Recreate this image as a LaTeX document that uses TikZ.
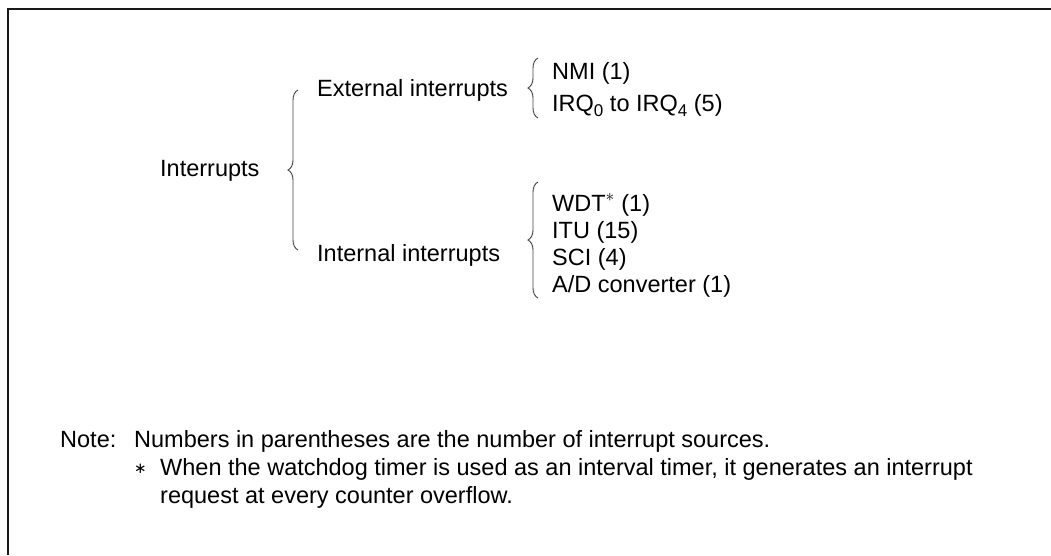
\documentclass[tikz,border=0pt]{standalone}
\usepackage{fontspec}
\setmainfont{Liberation Sans}
\newfontfamily\symfont{DejaVu Sans}
\usetikzlibrary{decorations.pathreplacing}
\newcommand{\lowidx}[1]{\raisebox{-5.5pt}{\fontsize{17}{17}\selectfont #1}}
\begin{document}
\begin{tikzpicture}[x=1pt, y=-1pt,
		every node/.style={anchor=base west, inner sep=0pt, font=\fontsize{23.5}{28}\selectfont},
		brc/.style={decorate, decoration={brace, amplitude=10pt}, line width=0.9pt, black!75},
		frame/.style={line width=1.2pt, black!90}]
		\useasboundingbox (0,0) rectangle (1051,555);
		\draw[frame] (1051,9) -- (8,9) -- (8,555);
		\node (intr) at (160,176) {Interrupts};
		\node (ext) at (317,96) {External interrupts};
		\node (int) at (317,261) {Internal interrupts};
		\node (nmi) at (552,79) {NMI (1)};
		\node (irq) at (552,111) {IRQ\lowidx{0} to IRQ\lowidx{4} (5)};
		\node (wdt) at (552,211) {WDT$^{\ast}$ (1)};
		\node (itu) at (552,238) {ITU (15)};
		\node (sci) at (552,265) {SCI (4)};
		\node (adc) at (552,292) {A/D converter (1)};
		\coordinate (b1) at (298,250);
		\coordinate (t1) at (298,90);
		\coordinate (b2) at (538,118);
		\coordinate (t2) at (538,58);
		\coordinate (b3) at (538,298);
		\coordinate (t3) at (538,182);
		\draw[brc] (b1) -- (t1);
		\draw[brc] (b2) -- (t2);
		\draw[brc] (b3) -- (t3);
		\node (note) at (60,447) {Note:};
		\node (notes) at (134,447) {\begin{tabular}[t]{@{}l@{}}
				Numbers in parentheses are the number of interrupt sources.\\
				\makebox[26pt][l]{\raisebox{1.5pt}{\symfont\fontsize{15}{15}\selectfont ∗}}When the watchdog timer is used as an interval timer, it generates an interrupt\\
				\hspace*{26pt}request at every counter overflow.
			\end{tabular}};
	\end{tikzpicture}
\end{document}
